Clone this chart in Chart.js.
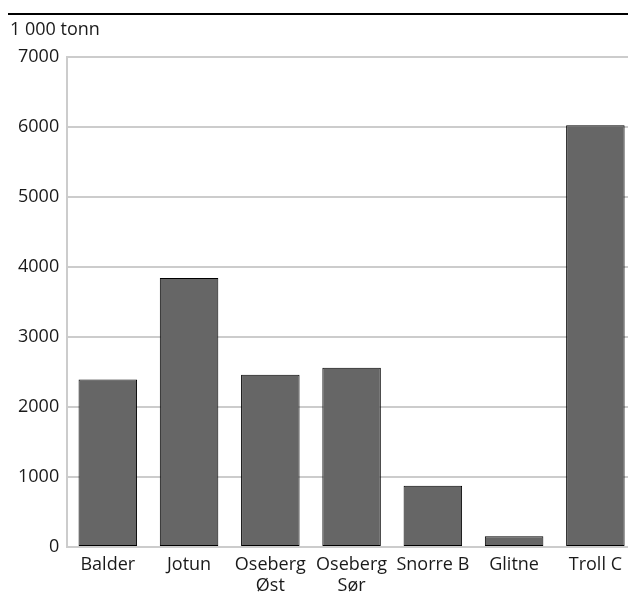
<!DOCTYPE html>
<html>
<head>
<meta charset="utf-8">
<script src="https://cdn.jsdelivr.net/npm/chart.js@4"></script>
<style>
  html, body { margin: 0; padding: 0; overflow: hidden; background: #fff; }
  #wrap { width: 636px; height: 599px; }
</style>
</head>
<body>
<div id="wrap"><canvas id="myChart" width="636" height="599"></canvas></div>
<script>
var fields = [["Balder"], ["Jotun"], ["Oseberg", "Øst"], ["Oseberg", "Sør"], ["Snorre B"], ["Glitne"], ["Troll C"]];
var production = [2390, 3840, 2460, 2560, 875, 155, 6020];
var unitLabel = "1 000 tonn";

// black rule across the top
var topLine = {
  id: "topLine",
  beforeDraw: function(chart) {
    var ctx = chart.ctx;
    ctx.save();
    ctx.strokeStyle = "#000";
    ctx.lineWidth = 2;
    ctx.beginPath();
    ctx.moveTo(8, 14);
    ctx.lineTo(chart.width, 14);
    ctx.stroke();
    ctx.restore();
  }
};

Chart.defaults.font.family = "'Open Sans', sans-serif";
Chart.defaults.font.size = 18;
Chart.defaults.color = "#1a1a1a";

var chartOptions = {
  type: "bar",
  data: {
    labels: fields,
    datasets: [{
      data: production,
      backgroundColor: "#666666",
      borderColor: "#000",
      borderWidth: 1,
      borderSkipped: false,
      barPercentage: 0.72,
      categoryPercentage: 1
    }]
  },
  options: {
    responsive: false,
    animation: false,
    layout: { padding: { left: 10, top: 19, right: 0, bottom: 0 } },
    scales: {
      y: {
        min: 0,
        max: 7000,
        ticks: {
          stepSize: 1000,
          padding: 8,
          callback: function(v) { return String(v); }
        },
        grid: { color: "#cccccc", lineWidth: 2, drawTicks: false },
        border: { color: "#cccccc", width: 2 }
      },
      x: {
        ticks: { padding: 8, maxRotation: 0, autoSkip: false, font: { lineHeight: 1.15 } },
        grid: { display: false, drawTicks: false },
        border: { color: "#cccccc", width: 2 },
        afterFit: function(scale) { scale.height = 52; }
      }
    },
    plugins: {
      legend: { display: false },
      tooltip: { enabled: false },
      title: {
        display: true,
        text: unitLabel,
        align: "start",
        color: "#1a1a1a",
        font: { size: 18, weight: "normal" },
        padding: { top: 0, bottom: 16 }
      }
    }
  },
  plugins: [topLine]
};

var ctx = document.getElementById("myChart").getContext("2d");
var myChart = new Chart(ctx, chartOptions);
</script>
</body>
</html>
